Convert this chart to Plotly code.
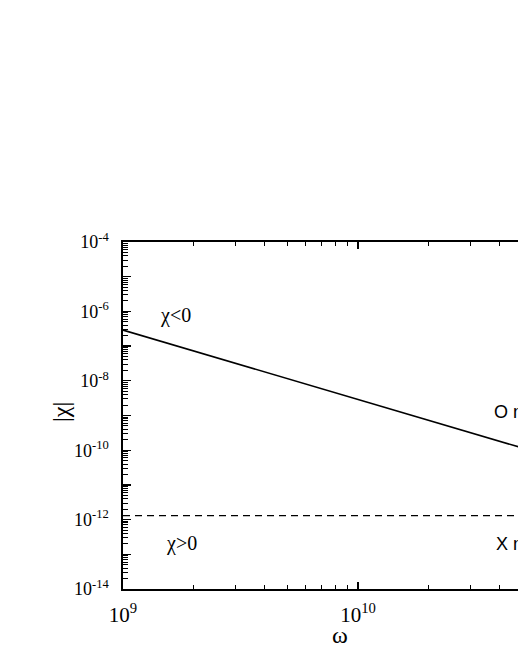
import numpy as np
import plotly.graph_objects as go

# ---- data ----
omega = [1e9, 1e11]
chi_O = [2.9e-7, 2.9e-11]        # O mode, chi < 0
chi_X = [1.3e-12, 1.3e-12]       # X mode, chi > 0

x_tickvals = [1e9, 1e10, 1e11]
x_ticktext = ["10<sup>9</sup>", "10<sup>10</sup>", "10<sup>11</sup>"]
y_tickvals = [10.0 ** e for e in range(-14, -3)]
y_ticktext = ["10<sup>%d</sup>" % e if e % 2 == 0 else "" for e in range(-14, -3)]

x_minor = [m * 10.0 ** e for e in range(9, 11) for m in range(2, 10)]
y_minor = [m * 10.0 ** e for e in range(-14, -4) for m in range(2, 10)]

SERIF = "Liberation Serif"
SANS = "Liberation Sans"

fig = go.Figure()
fig.add_trace(go.Scatter(x=omega, y=chi_O, mode="lines",
                         line=dict(color="black", width=1.6), showlegend=False))
fig.add_trace(go.Scatter(x=omega, y=chi_X, mode="lines",
                         line=dict(color="black", width=1.3, dash="7px,5px"), showlegend=False))

fig.update_layout(
    width=518, height=670,
    margin=dict(l=123, r=0, t=242, b=81, autoexpand=False),
    paper_bgcolor="white", plot_bgcolor="white",
    showlegend=False,
    font=dict(family=SERIF, color="black", size=18),
)
fig.update_xaxes(
    type="log", range=[9, 9 + 395 / 235],
    tickmode="array", tickvals=x_tickvals, ticktext=x_ticktext,
    tickfont=dict(family=SERIF, size=21, color="black"),
    ticks="inside", ticklen=7, tickwidth=1.3, tickcolor="black",
    minor=dict(tickmode="array", tickvals=x_minor, ticks="inside", ticklen=4,
               tickwidth=1, tickcolor="black", showgrid=False),
    showline=True, linecolor="black", linewidth=1.6, mirror="ticks",
    showgrid=False, zeroline=False, ticklabelstandoff=6,
)
fig.update_yaxes(
    type="log", range=[-14, -4],
    tickmode="array", tickvals=y_tickvals, ticktext=y_ticktext,
    tickfont=dict(family=SERIF, size=18, color="black"),
    ticks="inside", ticklen=8, tickwidth=1.3, tickcolor="black",
    minor=dict(tickmode="array", tickvals=y_minor, ticks="inside", ticklen=5,
               tickwidth=1, tickcolor="black", showgrid=False),
    showline=True, linecolor="black", linewidth=1.6, mirror=False,
    showgrid=False, zeroline=False, ticklabelstandoff=9,
)

ann = [
    dict(text="χ<0", x=(175 - 123) / 395, y=0.787, font=dict(family=SERIF, size=20)),
    dict(text="χ>0", x=(181 - 123) / 395, y=0.130, font=dict(family=SERIF, size=20)),
    dict(text="O mode", x=(492 - 123) / 395, y=0.5115, xanchor="left", font=dict(family=SANS, size=18)),
    dict(text="X mode", x=(493.7 - 123) / 395, y=0.130, xanchor="left", font=dict(family=SANS, size=18)),
    dict(text="ω", x=(340 - 123) / 395, y=-0.1326, font=dict(family=SERIF, size=24)),
    dict(text="|χ|", x=(61 - 123) / 395, y=0.510, textangle=-90, font=dict(family=SERIF, size=24)),
]
for a in ann:
    a.setdefault("xanchor", "center")
    fig.add_annotation(xref="paper", yref="paper", showarrow=False, yanchor="middle",
                       font_color="black", **a)

fig.write_html("out.html",
               config={"displayModeBar": False, "staticPlot": True},
               post_script="document.documentElement.style.overflow='hidden';"
                           "document.body.style.overflow='hidden';"
                           "document.body.style.margin='0';")
